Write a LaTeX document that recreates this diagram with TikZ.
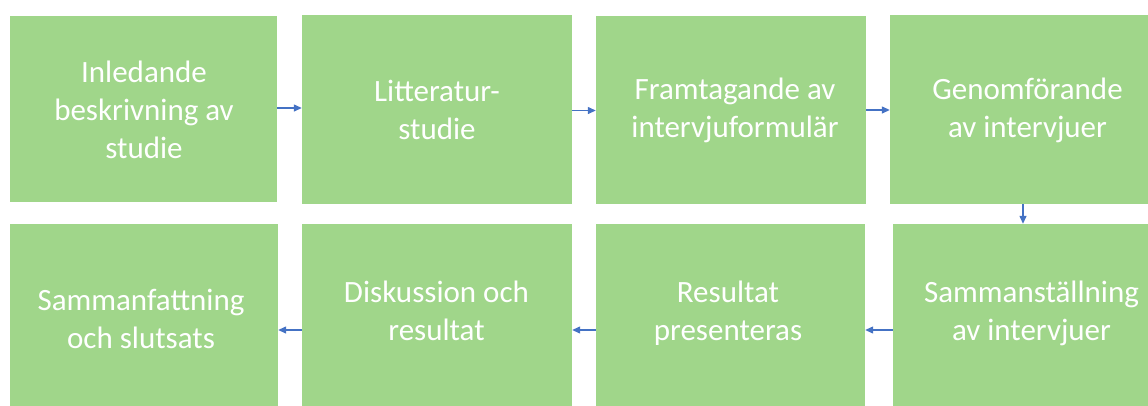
\documentclass[tikz,border=0pt]{standalone}
\usepackage{fontspec}
\setmainfont{Carlito}
\usetikzlibrary{arrows.meta}
\definecolor{boxgreen}{HTML}{A0D68A}
\definecolor{arrowblue}{HTML}{4472C4}
\tikzset{
  stagebox/.style={fill=boxgreen, draw=none, inner sep=0pt},
  stagetext/.style={inner sep=0pt, text=white, align=center,
    font=\fontsize{31}{38}\selectfont},
  flow/.style={draw=arrowblue, line width=1.3pt, -{Triangle[length=8pt,width=7pt]}}
}
\begin{document}
\begin{tikzpicture}[x=1pt,y=-1pt]
\useasboundingbox (0,0) rectangle (1148,405);
% row 1 boxes
\node[stagebox, minimum width=267pt, minimum height=186pt] (b1) at (143.5,109) {};
\node[stagebox, minimum width=270pt, minimum height=189pt] (b2) at (437,109.5) {};
\node[stagebox, minimum width=270pt, minimum height=188pt] (b3) at (731,110) {};
\node[stagebox, minimum width=258pt, minimum height=189pt] (b4) at (1019,109.5) {};
% row 2 boxes
\node[stagebox, minimum width=268pt, minimum height=190pt] (b5) at (144,319) {};
\node[stagebox, minimum width=270pt, minimum height=190pt] (b6) at (437,319) {};
\node[stagebox, minimum width=269pt, minimum height=190pt] (b7) at (730.5,319) {};
\node[stagebox, minimum width=255pt, minimum height=190pt] (b8) at (1020.5,319) {};
% texts
\node[stagetext] (t1) at (144,110) {Inledande\\beskrivning av\\studie};
\node[stagetext] (t2) at (437,110) {Litteratur-\\studie};
\node[stagetext] (t3) at (735,110) {Framtagande av\\intervjuformulär};
\node[stagetext] (t4) at (1027.5,110) {Genomförande\\av intervjuer};
\node[stagetext] (t5) at (141,319) {Sammanfattning\\och slutsats};
\node[stagetext] (t6) at (436.5,311) {Diskussion och\\resultat};
\node[stagetext] (t7) at (728,313) {Resultat\\presenteras};
\node[stagetext] (t8) at (1031.5,313) {Sammanställning\\av intervjuer};
% connectors
\draw[flow] ([yshift=1pt]b1.east) -- ([yshift=1pt]b1.east -| b2.west);
\draw[flow] ([yshift=-1pt]b2.east) -- ([yshift=-1pt]b2.east -| b3.west);
\draw[flow] (b3.east) -- (b3.east -| b4.west);
\draw[flow] ([xshift=4pt]b4.south) -- ([xshift=4pt]b4.south |- b8.north);
\draw[flow] ([yshift=-11pt]b8.west) -- ([yshift=-11pt]b8.west -| b7.east);
\draw[flow] ([yshift=-11pt]b7.west) -- ([yshift=-11pt]b7.west -| b6.east);
\draw[flow] ([yshift=-11pt]b6.west) -- ([yshift=-11pt]b6.west -| b5.east);
\end{tikzpicture}
\end{document}
